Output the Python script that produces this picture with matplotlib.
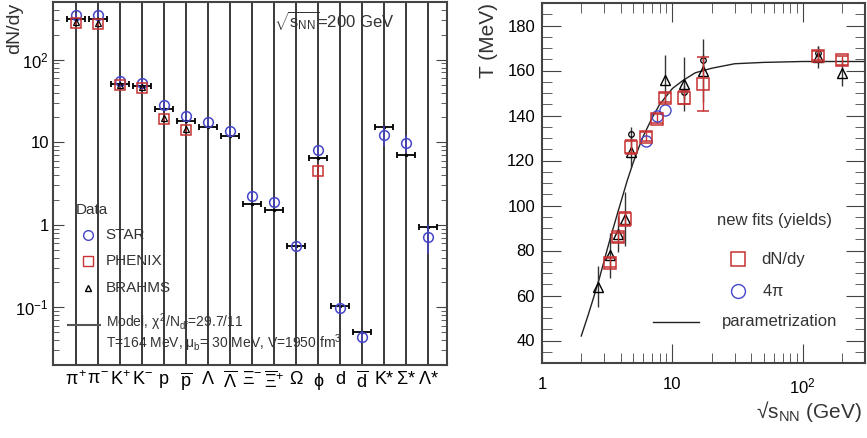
import numpy as np
import matplotlib
matplotlib.use('Agg')
import matplotlib.pyplot as plt
from matplotlib.ticker import LogLocator, MultipleLocator, NullFormatter, FixedLocator

plt.rcParams['font.family'] = ['Liberation Sans', 'DejaVu Sans']
plt.rcParams['mathtext.fontset'] = 'custom'
plt.rcParams['mathtext.rm'] = 'Liberation Sans'
plt.rcParams['mathtext.it'] = 'Liberation Sans'
plt.rcParams['mathtext.bf'] = 'Liberation Sans:bold'

# ---- left panel: particle yields at sqrt(s_NN)=200 GeV ----
particles = [r'$\pi^{+}$', r'$\pi^{-}$', r'K$^{+}$', r'K$^{-}$', 'p',
             r'$\overline{\mathrm{p}}$', r'$\Lambda$', r'$\overline{\Lambda}$',
             r'$\Xi^{-}$', r'$\overline{\Xi}^{+}$', r'$\Omega$', r'$\phi$',
             'd', r'$\overline{\mathrm{d}}$', 'K*', r'$\Sigma$*', r'$\Lambda$*']
pos = np.arange(1, len(particles) + 1)

star_y = [345, 350, 55, 52, 28, 21, 17.5, 13.5, 2.25, 1.9, 0.55, 8.0,
          0.098, 0.044, 12.3, 9.8, 0.71]
star_err = [25, 25, 5, 5, 3.5, 2.5, 1.8, 1.5, 0.25, 0.2, 0.05, 1.0,
            0.015, 0.007, 3.3, 2.3, 0.27]

phenix_pos = [1, 2, 3, 4, 5, 6, 12]
phenix_y = [280, 272, 49, 46, 19.3, 14.2, 4.5]
phenix_err = [20, 20, 3, 3, 1.5, 1.2, 1.0]

brahms_pos = [1, 2, 3, 4, 5, 6]
brahms_y = [285, 278, 50, 46.5, 19.5, 14.5]

model_y = [310, 315, 51, 48, 25.5, 18, 15.5, 12, 1.8, 1.52, 0.55, 6.4,
           0.104, 0.05, 15.3, 7.0, 0.95]

# ---- right panel: T vs sqrt(s_NN) ----
sq_x = [3.3, 3.8, 4.3, 4.8, 6.3, 7.6, 8.8, 12.3, 17.3, 130, 200]
sq_T = [74.5, 86, 94, 126, 130.5, 138.5, 148, 148, 154, 166.5, 164.5]
sq_err = [2, 2, 3, 3, 2, 2, 2, 3, 12, 2, 2]

circ_x = [6.3, 7.6, 8.8]
circ_T = [128.5, 140, 142.5]

tri_x = [2.7, 3.3, 3.8, 4.3, 4.8, 8.8, 12.3, 17.3, 130, 200]
tri_T = [64, 78, 87.5, 94, 124, 156, 154, 160, 166, 159]
tri_err = [9, 10, 8, 12, 7, 11, 12, 14, 5, 6]

old_x = [4.8, 12.3, 17.3, 130]
old_T = [132, 150.5, 164.5, 168]
old_err = [3, 3, 3, 3]

par_x = [2, 2.25, 2.5, 2.75, 3, 3.25, 3.5, 3.75, 4, 4.5, 5, 5.5, 6, 7, 8,
         10, 12, 15, 20, 30, 50, 100, 200, 300]
par_T = [42, 51, 59.5, 67.5, 75.5, 83, 89.5, 95.5, 101, 111, 119, 125.5,
         131, 139, 145, 152, 155.5, 159, 161, 163, 163.6, 164, 164, 164]

blue = '#4646c8'
red = '#c83232'
frame = '#444444'

fig = plt.figure(figsize=(8.67, 4.38), dpi=100)
W, H = 867.0, 438.0

# left axes
axl = fig.add_axes([53 / W, 1 - 365 / H, (447 - 53) / W, (365 - 2) / H])
axl.set_yscale('log')
axl.set_ylim(0.02, 500)
axl.set_xlim(-0.045, 17.85)
for p in pos:
    axl.axvline(p, color='#2a2a2a', lw=1.3, zorder=1)

axl.errorbar(pos, model_y, xerr=0.4, fmt='.', color='black', ms=3,
             capsize=2.5, elinewidth=1.3, capthick=1.3, zorder=3)
axl.errorbar(pos, star_y, yerr=star_err, fmt='o', mfc='none', mec=blue,
             ecolor=blue, ms=7, mew=1.1, elinewidth=1.1, capsize=0, zorder=4)
axl.errorbar(phenix_pos, phenix_y, yerr=phenix_err, fmt='s', mfc='none',
             mec=red, ecolor=red, ms=7, mew=1.1, elinewidth=1.1, capsize=0,
             zorder=4)
axl.plot(brahms_pos, brahms_y, '^', mfc='none', mec='black', ms=5, mew=0.9,
         zorder=5)

axl.set_xticks(pos)
axl.set_xticklabels(particles, fontsize=13)
axl.tick_params(axis='x', length=0, pad=4)
axl.yaxis.set_major_locator(FixedLocator([0.1, 1, 10, 100]))
axl.set_yticklabels([r'10$^{-1}$', '1', '10', r'10$^{2}$'])
axl.yaxis.set_minor_locator(LogLocator(base=10, subs=np.arange(2, 10)))
axl.yaxis.set_minor_formatter(NullFormatter())
axl.tick_params(axis='y', which='major', direction='in', length=8,
                labelsize=12, pad=3, color=frame, right=True)
axl.tick_params(axis='y', which='minor', direction='in', length=4,
                color=frame, right=True)
for s in axl.spines.values():
    s.set_color(frame)
    s.set_linewidth(1.5)

axl.text(0.560, 0.95, r'$\sqrt{s_{NN}}$=200 GeV', transform=axl.transAxes,
         fontsize=12, ha='left', va='center', color='#333333')
axl.text(0.058, 0.427, 'Data', transform=axl.transAxes, fontsize=11,
         ha='left', va='center', color='#333333')
legl = [('o', blue, 0.358, 'STAR', 7), ('s', red, 0.287, 'PHENIX', 7),
        ('^', 'black', 0.211, 'BRAHMS', 5)]
for m, c, yy, lab, ms in legl:
    axl.plot([0.089], [yy], m, transform=axl.transAxes, mfc='none', mec=c,
             ms=ms, mew=1.0, clip_on=False)
    axl.text(0.134, yy, lab, transform=axl.transAxes, fontsize=11,
             ha='left', va='center', color='#333333')
axl.plot([0.038, 0.119], [0.110, 0.110], color='#555555', lw=1.5,
         transform=axl.transAxes)
axl.text(0.134, 0.118, r'Model, $\chi^{2}$/N$_{df}$=29.7/11',
         transform=axl.transAxes, fontsize=10, ha='left', va='center',
         color='#333333')
axl.text(0.134, 0.060, r'T=164 MeV, $\mu_{b}$= 30 MeV, V=1950 fm$^{3}$',
         transform=axl.transAxes, fontsize=10, ha='left', va='center',
         color='#333333')
fig.text(15 / W, 1 - 3 / H, 'dN/dy', rotation=90, fontsize=14,
         ha='center', va='top', color='#333333')

# right axes
axr = fig.add_axes([542 / W, 1 - 363 / H, (865 - 542) / W, (363 - 3) / H])
axr.set_xscale('log')
axr.set_xlim(1, 300)
axr.set_ylim(30, 190)

axr.plot(par_x, par_T, color='#222222', lw=1.0, zorder=2)
axr.errorbar(tri_x, tri_T, yerr=tri_err, fmt='^', mfc='none', mec='black',
             ecolor='#333333', ms=7, mew=1.0, elinewidth=1.0, capsize=0,
             zorder=3)
axr.errorbar(old_x, old_T, yerr=old_err, fmt='o', mfc='none', mec='black',
             ecolor='#333333', ms=4, mew=0.9, elinewidth=1.0, capsize=0,
             zorder=3)
axr.errorbar(sq_x, sq_T, yerr=sq_err, fmt='s', mfc='none', mec=red,
             ecolor=red, ms=8, mew=1.1, elinewidth=1.0, capsize=4,
             zorder=4)
axr.plot(circ_x, circ_T, 'o', mfc='none', mec=blue, ms=8, mew=1.0, zorder=4)

axr.xaxis.set_major_locator(FixedLocator([1, 10, 100]))
axr.set_xticklabels(['1', '10', r'10$^{2}$'])
axr.xaxis.set_minor_locator(LogLocator(base=10, subs=np.arange(2, 10)))
axr.xaxis.set_minor_formatter(NullFormatter())
axr.yaxis.set_major_locator(MultipleLocator(20))
axr.yaxis.set_minor_locator(MultipleLocator(5))
axr.tick_params(which='both', direction='in', top=True, right=True,
                color=frame)
axr.tick_params(which='major', length=14, labelsize=12)
axr.tick_params(which='minor', length=7)
axr.tick_params(axis='x', which='major', pad=10)
axr.tick_params(axis='y', which='major', pad=5)
for s in axr.spines.values():
    s.set_color(frame)
    s.set_linewidth(1.5)

axr.text(0.542, 0.397, 'new fits (yields)', transform=axr.transAxes,
         fontsize=12, ha='left', va='center', color='#333333')
axr.plot([0.606], [0.288], 's', mfc='none', mec=red, ms=10, mew=1.1,
         transform=axr.transAxes)
axr.text(0.680, 0.288, 'dN/dy', transform=axr.transAxes, fontsize=12,
         ha='left', va='center', color='#333333')
axr.plot([0.606], [0.200], 'o', mfc='none', mec=blue, ms=10, mew=1.0,
         transform=axr.transAxes)
axr.text(0.680, 0.200, r'4$\pi$', transform=axr.transAxes, fontsize=12,
         ha='left', va='center', color='#333333')
axr.plot([0.344, 0.486], [0.115, 0.115], color='#222222', lw=1.0,
         transform=axr.transAxes)
axr.text(0.556, 0.115, 'parametrization', transform=axr.transAxes,
         fontsize=12, ha='left', va='center', color='#333333')

fig.text(489 / W, 1 - 3 / H, 'T (MeV)', rotation=90, fontsize=15,
         ha='center', va='top', color='#333333')
fig.text(862 / W, 1 - 412 / H, '\u221as$_{NN}$ (GeV)', fontsize=15,
         ha='right', va='center', color='#333333')

fig.savefig('out.png', dpi=100)
